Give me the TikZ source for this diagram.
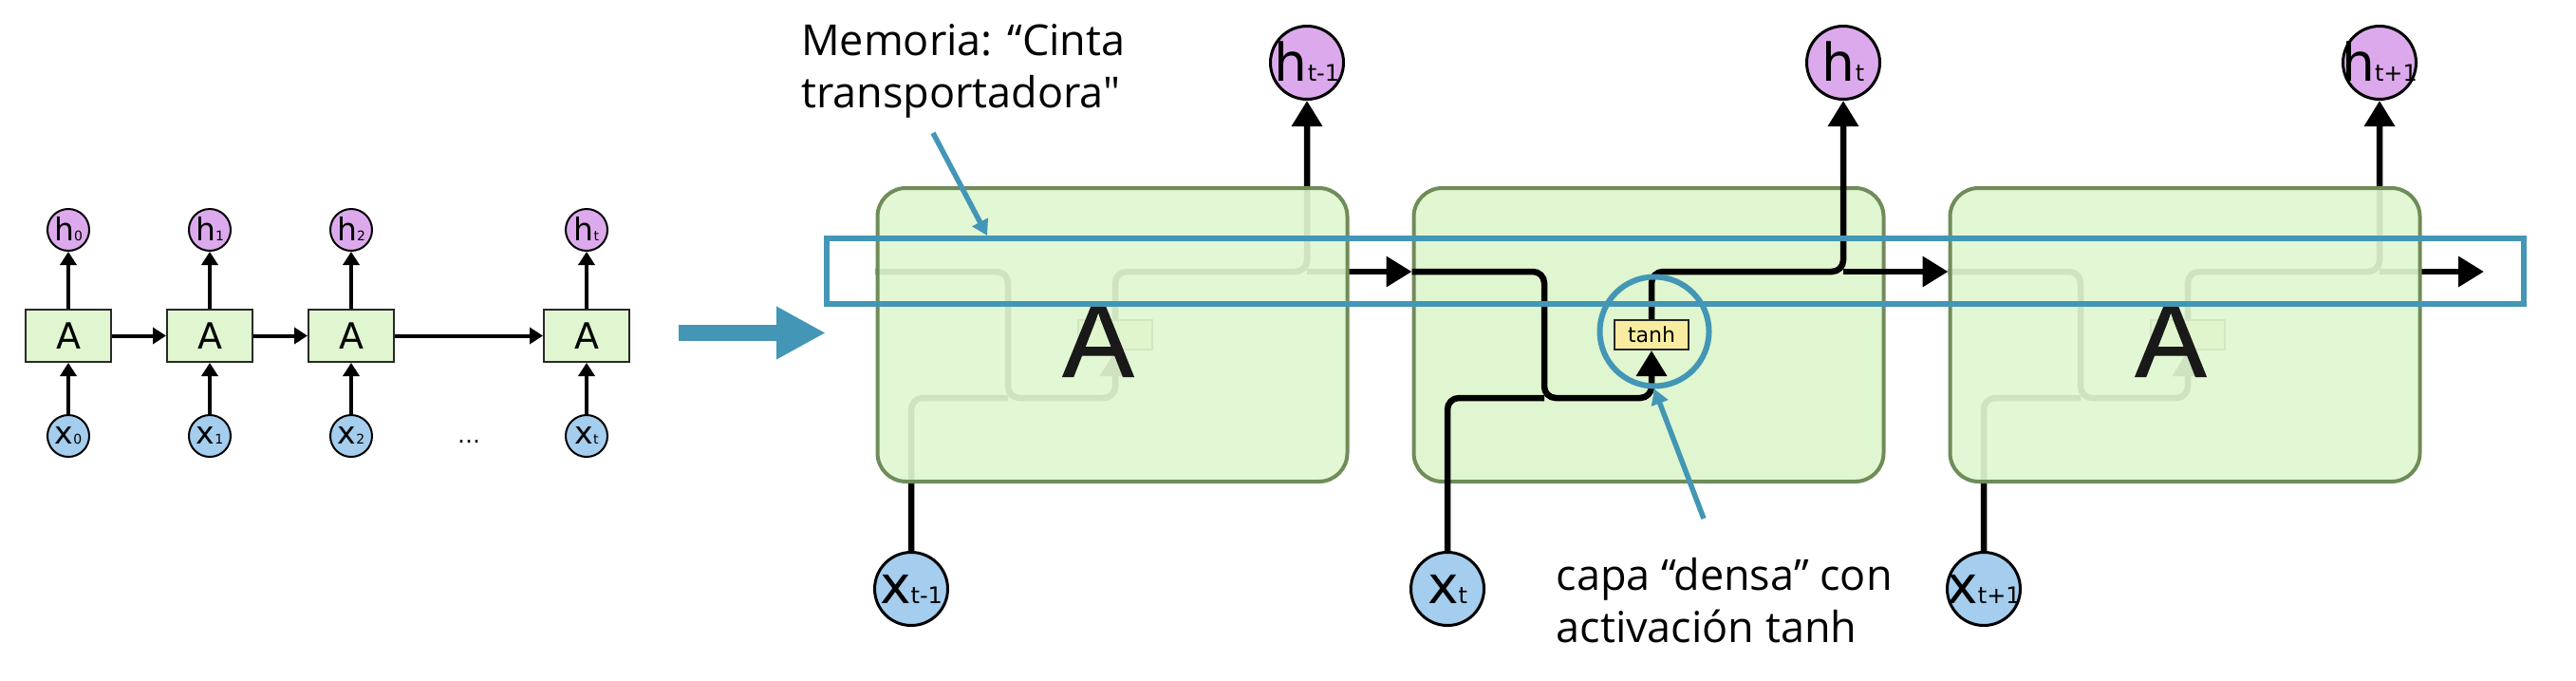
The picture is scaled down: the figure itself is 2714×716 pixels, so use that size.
\documentclass[tikz,border=0pt]{standalone}
\usepackage{fontspec}
\setmainfont{DejaVu Sans}
\newfontfamily\notefont{Open Sans}[Ligatures=TeXOff]
\newfontfamily\cellfont{Liberation Sans}[FakeBold=1.2]
\usetikzlibrary{matrix,arrows.meta,positioning}

\definecolor{cellfill}{RGB}{224,246,208}
\definecolor{celledge}{RGB}{111,140,89}
\definecolor{boxedge}{RGB}{40,40,40}
\definecolor{hfill}{RGB}{220,170,236}
\definecolor{xfill}{RGB}{164,205,238}
\definecolor{tanhfill}{RGB}{248,236,160}
\definecolor{memblue}{RGB}{67,150,181}
\definecolor{letterA}{RGB}{25,25,25}

\pgfdeclarelayer{cellback}
\pgfdeclarelayer{cellfront}
\pgfdeclarelayer{notes}
\pgfsetlayers{cellback,main,cellfront,notes}

\newcommand{\lblbig}[3]{\makebox[0pt]{\raisebox{#1}[0pt][0pt]{\fontsize{55}{55}\selectfont #2\fontsize{24}{24}\selectfont #3}}}
\newcommand{\lblsmall}[3]{\makebox[0pt]{\raisebox{#1}[0pt][0pt]{\fontsize{33}{33}\selectfont #2\fontsize{14}{14}\selectfont #3}}}

\tikzset{
	rnnbox/.style={draw=boxedge, line width=2pt, fill=cellfill, minimum width=90pt, minimum height=55pt, inner sep=0pt, font=\fontsize{38}{38}\selectfont},
	hsm/.style={circle, draw, line width=2pt, fill=hfill, minimum size=44pt, inner sep=0pt},
	xsm/.style={hsm, fill=xfill},
	ellipsisnode/.style={minimum width=42pt, inner sep=0pt, font=\fontsize{24}{24}\selectfont, yshift=-6pt},
	smallarrow/.style={line width=4pt, -{Triangle[width=17pt,length=14pt]}},
	cellbox/.style={draw=celledge, line width=4pt, fill=cellfill, rounded corners=30pt, minimum width=495pt, minimum height=309pt},
	hbig/.style={circle, draw, line width=3pt, fill=hfill, minimum size=77pt, inner sep=0pt},
	xbig/.style={hbig, fill=xfill},
	tanhbox/.style={draw=boxedge, line width=2pt, fill=tanhfill, minimum width=78pt, minimum height=31pt, inner sep=0pt, font=\fontsize{22}{22}\selectfont},
	flow/.style={line width=6.5pt, rounded corners=12pt},
	flowarrow/.style={flow, -{Triangle[width=31pt,length=27pt]}},
	bigA/.style={font=\cellfont\fontsize{112}{112}\selectfont, text=letterA, inner sep=0pt},
	band/.style={draw=memblue, line width=6pt, minimum width=1787.5pt, minimum height=69pt},
	tanhring/.style={circle, draw=memblue, line width=6pt, minimum size=115pt},
	note/.style={font=\notefont\fontsize{45}{55}\selectfont, align=left, inner sep=0pt},
	notearrow/.style={draw=memblue, line width=5.5pt, -{Triangle[width=18pt,length=16pt]}},
	bigarrow/.style={draw=memblue, line width=17pt, -{Triangle[width=52pt,length=52pt]}}
}

\begin{document}
\begin{tikzpicture}[x=1pt,y=-1pt]
\useasboundingbox (0,0) rectangle (2714,716);

% red recurrente desplegada
\matrix (m) [matrix of nodes, ampersand replacement=\&, row sep=60pt, column sep=57pt,
nodes={anchor=center}, matrix anchor=m-2-1.center] at (72,353.5)
{ |[hsm]| \lblsmall{-11pt}{h}{0} \& |[hsm]| \lblsmall{-11pt}{h}{1} \& |[hsm]| \lblsmall{-11pt}{h}{2} \& \& |[hsm]| \lblsmall{-11pt}{h}{t} \\
	|[rnnbox]| A \& |[rnnbox]| A \& |[rnnbox]| A \& \& |[rnnbox]| A \\[-6pt]
	|[xsm]| \lblsmall{-8pt}{x}{0} \& |[xsm]| \lblsmall{-8pt}{x}{1} \& |[xsm]| \lblsmall{-8pt}{x}{2} \& |[ellipsisnode]| … \& |[xsm]| \lblsmall{-8pt}{x}{t} \\ };

\path[smallarrow] (m-2-1) edge (m-1-1) (m-3-1) edge (m-2-1)
(m-2-2) edge (m-1-2) (m-3-2) edge (m-2-2)
(m-2-3) edge (m-1-3) (m-3-3) edge (m-2-3)
(m-2-5) edge (m-1-5) (m-3-5) edge (m-2-5);
\path[smallarrow] (m-2-1) edge (m-2-2)
(m-2-2) edge (m-2-3)
(m-2-3) edge (m-2-5);

% flecha de paso
\coordinate (rnnend) at (715,350.5);
\coordinate (lstmstart) at (870,350.5);
\draw[bigarrow] (rnnend) -- (lstmstart);

% celdas
\begin{pgfonlayer}{cellback}
\node[cellbox] (c2) at (1737,352.5) {};
\end{pgfonlayer}
\begin{pgfonlayer}{cellfront}
\node[cellbox, fill opacity=0.925] (c1) at (1172,352.5) {};
\node[cellbox, fill opacity=0.925] (c3) at (2302,352.5) {};
\node[bigA] (a1) at (1157,358) {A};
\node[bigA] (a3) at (2287,358) {A};
\end{pgfonlayer}

\coordinate (tail) at (2617,286);
\foreach \i/\cx/\k/\nxt/\tt in {1/1172/t-1/c2.west/, 2/1737/t/c3.west/tanh, 3/2302/t+1/tail/}{
	\node[tanhbox] (t\i) at (\cx+3,352.5) {\tt};
	\node[hbig] (h\i) at (\cx+205,66) {\lblbig{-19pt}{h}{\k}};
	\node[xbig] (x\i) at (\cx-212,620) {\lblbig{-15pt}{x}{\k}};
	\draw[flowarrow] (c\i.west |- 0,286) -- (\cx-110,286) -- (\cx-110,419) -- (t\i.south |- 0,419) -- (t\i.south);
	\draw[flow] (x\i) |- (\cx-110,419);
	\draw[flowarrow] (t\i.north) -- (t\i.north |- 0,286) -- (h\i |- 0,286) -- (h\i);
	\draw[flowarrow] (h\i |- 0,286) -- (\nxt |- 0,286);
}

% anotaciones
\node[note, anchor=base west] (mem) at (844,113) {Memoria: “Cinta\\transportadora"};
\node[note, anchor=base west] (capa) at (1639.5,676) {capa “densa” con\\activación tanh};
\coordinate (memtail) at (983,140);
\coordinate (memtip) at (1040,248);
\coordinate (capatail) at (1795,546);
\begin{pgfonlayer}{notes}
\node[band] (band) at (1764.75,285.5) {};
\node[tanhring] (ring) at (1743,349) {};
\draw[notearrow] (memtail) -- (memtip);
\draw[notearrow] (capatail) -- (ring.south);
\end{pgfonlayer}
\end{tikzpicture}
\end{document}
